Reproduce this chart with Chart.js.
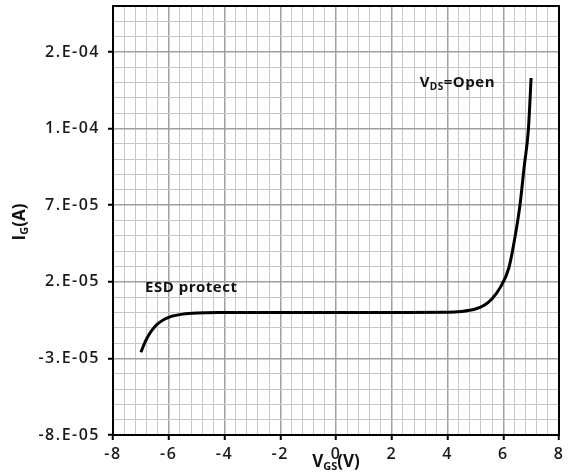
<!DOCTYPE html>
<html>
<head>
<meta charset="utf-8">
<script src="https://cdn.jsdelivr.net/npm/chart.js@4/dist/chart.umd.min.js"></script>
<style>
  html,body{margin:0;padding:0;background:#fff}
  #wrap{width:568px;height:475px;position:relative}
</style>
</head>
<body>
<div id="wrap"><canvas id="c"></canvas></div>
<script>
/* Gate current vs gate-source voltage (VDS open) */

// ── data ──
var vgs = [-7, -6.9, -6.8, -6.7, -6.6, -6.5, -6.4, -6.2, -6, -5.8, -5.5, -5, -4, -2, 0, 2, 4, 4.5, 5, 5.3, 5.6, 5.9, 6.2, 6.4, 6.6, 6.75, 6.9, 7];
var ig  = [-2.6e-5, -2.15e-5, -1.75e-5, -1.42e-5, -1.15e-5, -9.3e-6, -7.5e-6, -4.9e-6, -3.2e-6, -2.1e-6, -1.1e-6, -4e-7, -1e-7, 0, 0, 0, 1e-7, 6e-7, 2.2e-6, 4.5e-6, 9e-6, 1.65e-5, 2.9e-5, 4.7e-5, 7.0e-5, 9.5e-5, 1.19e-4, 1.53e-4];

var xTickLabels = ['-8','-6','-4','-2','0','2','4','6','8'];
var yTickLabels = ['-8.E-05','-3.E-05','2.E-05','7.E-05','1.E-04','2.E-04'];

var X_MIN = -8, X_MAX = 8, X_STEP = 0.4;
var Y_MIN = -8e-5, Y_MAX = 2e-4, Y_STEP = 1e-5;

var FONT = '"Open Sans", Lato, sans-serif';

function xIdx(v){ return Math.round((v - X_MIN) / X_STEP); }
function yIdx(v){ return Math.round((v - Y_MIN) / Y_STEP); }

var annotations = [
  {x:-6.85, y:1.6e-5, parts:[{t:'ESD protect'}]},
  {x:3.0, y:1.5e-4, parts:[{t:'V'},{t:'DS', sub:true},{t:'=Open'}]}
];

// text runs with subscripts, left aligned, baseline middle
function drawRuns(c, parts, x, y, size){
  parts.forEach(function(p){
    var s = p.sub ? Math.round(size*0.65) : size;
    c.font = 'bold '+s+'px '+FONT;
    c.fillText(p.t, x, p.sub ? y + size*0.3 : y);
    x += c.measureText(p.t).width;
  });
}
function runsWidth(c, parts, size){
  var w = 0;
  parts.forEach(function(p){
    var s = p.sub ? Math.round(size*0.65) : size;
    c.font = 'bold '+s+'px '+FONT;
    w += c.measureText(p.t).width;
  });
  return w;
}

var framePlugin = {
  id:'frame',
  beforeDraw:function(chart){
    // Excel-ish spaced tick labels
    chart.ctx.letterSpacing = '1.5px';
  },
  afterDatasetsDraw:function(chart){
    var c = chart.ctx, a = chart.chartArea;
    c.save();
    c.strokeStyle = '#000'; c.lineWidth = 2;
    c.strokeRect(a.left, a.top, a.right - a.left, a.bottom - a.top);
    c.restore();
  },
  afterDraw:function(chart){
    var c = chart.ctx;
    var xs = chart.scales.x, ys = chart.scales.y;
    c.save();
    c.fillStyle = '#111'; c.textBaseline = 'middle'; c.textAlign = 'left';
    c.letterSpacing = '0.5px';
    annotations.forEach(function(an){
      drawRuns(c, an.parts, xs.getPixelForValue(an.x), ys.getPixelForValue(an.y), 15);
    });
    c.letterSpacing = '0px';
    // axis titles
    var xt = [{t:'V'},{t:'GS', sub:true},{t:'(V)'}];
    var w = runsWidth(c, xt, 17);
    drawRuns(c, xt, 336 - w/2, 462, 17);
    var yt = [{t:'I'},{t:'G', sub:true},{t:'(A)'}];
    c.translate(20, 222); c.rotate(-Math.PI/2);
    w = runsWidth(c, yt, 17);
    drawRuns(c, yt, -w/2, 0, 17);
    c.restore();
    c.letterSpacing = '0px';
  }
};

new Chart(document.getElementById('c'), {
  type:'line',
  data:{
    datasets:[{
      data: vgs.map(function(v,i){ return {x:v, y:ig[i]}; }),
      borderColor:'#000', borderWidth:3, pointRadius:0,
      cubicInterpolationMode:'monotone', fill:false
    }]
  },
  options:{
    responsive:true, maintainAspectRatio:false, animation:false,
    layout:{padding:{top:6, right:9, left:0, bottom:0}},
    plugins:{legend:{display:false}, tooltip:{enabled:false}},
    scales:{
      x:{
        type:'linear', min:X_MIN, max:X_MAX,
        afterFit:function(s){ s.height = 40; s.paddingLeft = 0; s.paddingRight = 0; },
        border:{color:'#000', width:2},
        grid:{
          color:function(ctx){ return ctx.tick && xIdx(ctx.tick.value) % 5 === 0 ? '#a0a0a0' : '#c6c6c6'; },
          lineWidth:function(ctx){ return ctx.tick && xIdx(ctx.tick.value) % 5 === 0 ? 1.5 : 1; },
          tickColor:function(ctx){ return ctx.tick && xIdx(ctx.tick.value) % 5 === 0 ? '#000' : 'rgba(0,0,0,0)'; },
          tickLength:5, tickWidth:2
        },
        ticks:{
          stepSize:X_STEP, maxTicksLimit:100, autoSkip:false, maxRotation:0, padding:5,
          color:'#1a1a1a', font:{family:FONT, size:16, weight:'600'},
          callback:function(v){ var k = xIdx(v); return k % 5 === 0 ? xTickLabels[k/5] : ''; }
        }
      },
      y:{
        type:'linear', min:Y_MIN, max:Y_MAX,
        afterFit:function(s){ s.width = 113; s.paddingTop = 0; s.paddingBottom = 0; },
        border:{color:'#000', width:2},
        grid:{
          color:function(ctx){ return ctx.tick && yIdx(ctx.tick.value) % 5 === 0 ? '#a0a0a0' : '#c6c6c6'; },
          lineWidth:function(ctx){ return ctx.tick && yIdx(ctx.tick.value) % 5 === 0 ? 1.5 : 1; },
          tickColor:function(ctx){ return ctx.tick && yIdx(ctx.tick.value) % 5 === 0 ? '#000' : 'rgba(0,0,0,0)'; },
          tickLength:5, tickWidth:2
        },
        ticks:{
          stepSize:Y_STEP, maxTicksLimit:100, autoSkip:false, padding:8,
          color:'#1a1a1a', font:{family:FONT, size:16, weight:'600'},
          callback:function(v){ var k = yIdx(v); return k % 5 === 0 ? yTickLabels[k/5] : ''; }
        }
      }
    }
  },
  plugins:[framePlugin]
});
</script>
</body>
</html>
